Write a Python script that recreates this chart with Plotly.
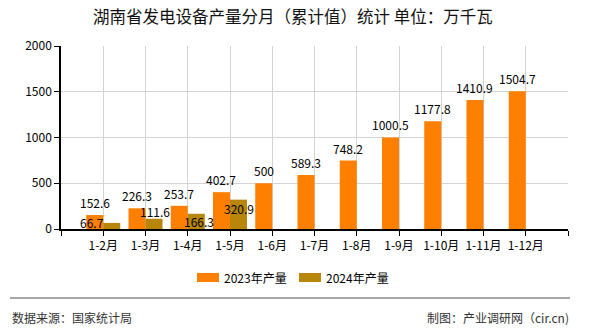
import plotly.graph_objects as go

# ---- data ----
categories = ["1-2月", "1-3月", "1-4月", "1-5月", "1-6月", "1-7月", "1-8月",
              "1-9月", "1-10月", "1-11月", "1-12月"]
values_2023 = [152.6, 226.3, 253.7, 402.7, 500, 589.3, 748.2, 1000.5, 1177.8, 1410.9, 1504.7]
values_2024 = [66.7, 111.6, 166.3, 320.9, None, None, None, None, None, None, None]
series_names = ["2023年产量", "2024年产量"]
y_ticks = [0, 500, 1000, 1500, 2000]

# ---- styling ----
W, H = 590, 330
L, R, T, B = 61, 568, 46, 229   # plot area pixel box
C23 = "#FF8000"
C24 = "#B8860B"
FONT = "Noto Sans CJK SC"
# label offsets (pixels) for 2024 labels as laid out in the reference
off24_x = [-20, 1, 3, 0]
off24_y = [0, 7, -8, -9]

def px2x(px):
    return (px - L) / (R - L)

def py2y(py):
    return (B - py) / (B - T)

xs = list(range(len(categories)))

fig = go.Figure()
fig.add_trace(go.Bar(x=xs, y=values_2023, name=series_names[0], marker_color=C23,
                     marker_line_width=0, showlegend=False))
fig.add_trace(go.Bar(x=xs, y=values_2024, name=series_names[1], marker_color=C24,
                     marker_line_width=0, showlegend=False))

slot_px = (R - L) / (len(categories) + 1)
bargap = 0.195
bar_px = slot_px * (1 - bargap) / 2

annotations = []
for i, v in enumerate(values_2023):
    annotations.append(dict(x=xs[i], y=v, xref="x", yref="y", text=str(v),
                            showarrow=False, xshift=-bar_px / 2, yshift=12.5,
                            yanchor="middle", xanchor="center",
                            font=dict(family=FONT, size=12, color="#000")))
k = 0
for i, v in enumerate(values_2024):
    if v is None:
        continue
    annotations.append(dict(x=xs[i], y=v, xref="x", yref="y", text=str(v),
                            showarrow=False, xshift=bar_px / 2 + off24_x[k],
                            yshift=off24_y[k], yanchor="middle", xanchor="center",
                            font=dict(family=FONT, size=12, color="#000")))
    k += 1

# title
annotations.append(dict(x=px2x(293), y=py2y(16), xref="paper", yref="paper",
                        text="湖南省发电设备产量分月（累计值）统计 单位：万千瓦",
                        showarrow=False, xanchor="center", yanchor="middle",
                        font=dict(family=FONT, size=16.5, color="#111")))
# legend texts
annotations.append(dict(x=px2x(222), y=py2y(277), xref="paper", yref="paper",
                        text=series_names[0], showarrow=False, xanchor="left",
                        yanchor="middle", font=dict(family=FONT, size=12, color="#000")))
annotations.append(dict(x=px2x(324), y=py2y(277), xref="paper", yref="paper",
                        text=series_names[1], showarrow=False, xanchor="left",
                        yanchor="middle", font=dict(family=FONT, size=12, color="#000")))
# footer texts
annotations.append(dict(x=px2x(10), y=py2y(317), xref="paper", yref="paper",
                        text="数据来源：国家统计局", showarrow=False, xanchor="left",
                        yanchor="middle", font=dict(family=FONT, size=12, color="#333")))
annotations.append(dict(x=px2x(571), y=py2y(317), xref="paper", yref="paper",
                        text="制图：产业调研网（cir.cn)", showarrow=False, xanchor="right",
                        yanchor="middle", font=dict(family=FONT, size=12, color="#333")))

shapes = [
    # legend swatches
    dict(type="rect", xref="paper", yref="paper", x0=px2x(197), x1=px2x(219),
         y0=py2y(282), y1=py2y(273), fillcolor=C23, line_width=0),
    dict(type="rect", xref="paper", yref="paper", x0=px2x(299), x1=px2x(321),
         y0=py2y(282), y1=py2y(273), fillcolor=C24, line_width=0),
    # footer separator
    dict(type="line", xref="paper", yref="paper", x0=px2x(10), x1=px2x(570),
         y0=py2y(298), y1=py2y(298), line=dict(color="#888888", width=1.5)),
]

fig.update_layout(
    width=W, height=H,
    margin=dict(l=L, r=W - R, t=T, b=H - B),
    paper_bgcolor="white", plot_bgcolor="white",
    barmode="group", bargap=bargap, bargroupgap=0,
    showlegend=False,
    annotations=annotations, shapes=shapes,
    font=dict(family=FONT, size=12, color="#000"),
)
fig.update_xaxes(
    range=[-1, len(categories)],
    tickmode="array",
    tickvals=list(range(-1, len(categories) + 1)),
    ticktext=[""] + categories + [""],
    showgrid=True, gridcolor="#d3d3d3", gridwidth=1,
    showline=True, linecolor="#000", linewidth=1.5,
    ticks="outside", ticklen=5, tickcolor="#000",
    tickfont=dict(family=FONT, size=12, color="#000"),
    zeroline=False, fixedrange=True,
)
fig.update_yaxes(
    range=[0, 2000], tickmode="array", tickvals=y_ticks,
    showgrid=True, gridcolor="#d3d3d3", gridwidth=1,
    showline=True, linecolor="#000", linewidth=1.5,
    ticks="outside", ticklen=5, tickcolor="#000",
    tickfont=dict(family=FONT, size=12, color="#000"),
    zeroline=False, fixedrange=True,
)

fig.write_html("out.html", config={"displayModeBar": False})
